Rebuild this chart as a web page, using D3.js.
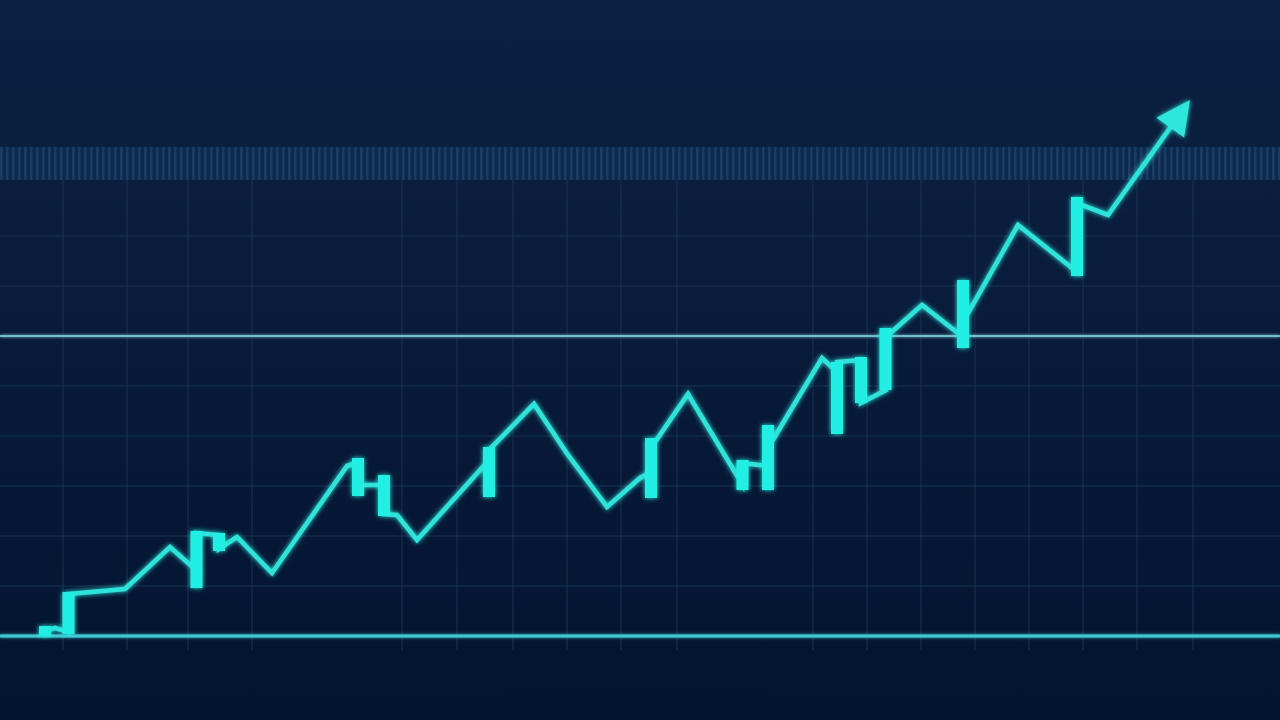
<!DOCTYPE html>
<html><head><meta charset="utf-8">
<script src="https://cdn.jsdelivr.net/npm/d3@7"></script>
<style>html,body{margin:0;padding:0;background:#0a1e3d;overflow:hidden}svg{display:block}</style>
</head><body>
<svg id="chart" width="1280" height="720"></svg>
<script>
// ---- data (x in time units, y in price units) ----
const lineX = [4.5,5.5,6.8,6.8,12.5,17.0,19.6,19.6,21.9,21.9,23.7,27.2,34.7,35.8,35.8,38.4,38.4,39.7,41.7,48.9,48.9,53.4,56.8,60.7,64.0,65.1,65.1,68.8,74.2,74.2,76.8,76.8,82.2,83.7,83.7,86.1,86.1,88.6,88.6,92.2,96.3,96.3,101.8,107.7,107.7,110.8,119.0];
const lineY = [0.10,0.16,0.08,0.84,0.94,1.78,1.32,2.06,2.02,1.74,1.98,1.26,3.40,3.48,3.02,3.02,2.44,2.42,1.92,3.52,3.72,4.64,3.62,2.58,3.16,3.28,3.76,4.84,3.04,3.46,3.40,3.76,5.56,5.28,5.48,5.52,4.66,4.92,5.98,6.62,5.98,6.28,8.22,7.28,8.66,8.42,10.72];
const candleX    = [4.5,6.85,19.65,21.9,35.8,38.4,48.9,65.1,74.25,76.8,83.7,86.1,88.55,96.3,107.7];
const candleHigh = [0.20,0.88,2.10,2.06,3.56,3.22,3.78,3.96,3.52,4.22,5.48,5.58,6.16,7.12,8.78];
const candleLow  = [0.00,0.04,0.96,1.70,2.80,2.40,2.78,2.76,2.92,2.92,4.04,4.66,4.92,5.76,7.20];
const gridX = [6.3,12.7,18.8,25.2,40.2,45.7,51.3,56.7,62.1,67.7,81.3,86.7,92.1,97.5,102.9,108.3,113.7,119.3];
const gridY = [1,2,3,4,5,7,8];
const levelY = [0,6];

// ---- layout ----
const W = 1280, H = 720;
const x = d3.scaleLinear().domain([0,128]).range([0,W]);
const y = d3.scaleLinear().domain([0,9]).range([636,186]);
const svg = d3.select('#chart');
const defs = svg.append('defs');

const bg = defs.append('linearGradient').attr('id','bg').attr('x1',0).attr('y1',0).attr('x2',0).attr('y2',1);
bg.append('stop').attr('offset','0%').attr('stop-color','#0c2142');
bg.append('stop').attr('offset','40%').attr('stop-color','#091c3b');
bg.append('stop').attr('offset','100%').attr('stop-color','#031430');

const pat = defs.append('pattern').attr('id','stripes').attr('patternUnits','userSpaceOnUse').attr('width',6).attr('height',40);
pat.append('rect').attr('width',6).attr('height',40).attr('fill','#102b50');
pat.append('rect').attr('width',2.5).attr('height',40).attr('fill','#1c426c');

function makeGlow(id, sd){
  const f = defs.append('filter').attr('id',id).attr('filterUnits','userSpaceOnUse')
    .attr('x',-50).attr('y',-50).attr('width',W+100).attr('height',H+100);
  f.append('feGaussianBlur').attr('stdDeviation',sd).attr('result','b');
  const m = f.append('feMerge'); m.append('feMergeNode').attr('in','b'); m.append('feMergeNode').attr('in','SourceGraphic');
}
makeGlow('glow',2.5);
makeGlow('glowS',1.5);

svg.append('rect').attr('width',W).attr('height',H).attr('fill','url(#bg)');
// striped band above the grid
svg.append('rect').attr('x',0).attr('y',147).attr('width',W).attr('height',y(9)-6-147).attr('fill','url(#stripes)').attr('opacity',0.85);

// grid
const g = svg.append('g');
g.selectAll('line.gx').data(gridX).join('line').attr('class','gx')
  .attr('x1',d=>x(d)).attr('x2',d=>x(d)).attr('y1',y(9)-6).attr('y2',y(0)+14)
  .attr('stroke','#1b3659').attr('stroke-width',1.5).attr('opacity',0.6);
g.selectAll('line.gy').data(gridY).join('line').attr('class','gy')
  .attr('x1',0).attr('x2',W).attr('y1',d=>y(d)).attr('y2',d=>y(d))
  .attr('stroke','#1b3659').attr('stroke-width',1.5).attr('opacity',0.6);
g.selectAll('line.lv').data(levelY).join('line').attr('class','lv')
  .attr('x1',0).attr('x2',W).attr('y1',d=>y(d)).attr('y2',d=>y(d))
  .attr('stroke',(d,i)=>i===0?'#3fc8d2':'#72bccb').attr('stroke-width',(d,i)=>i===0?3:2)
  .attr('filter','url(#glowS)');

// price line
const pts = lineX.map((v,i)=>[x(v), y(lineY[i])]);
const tip = pts[pts.length-1], prev = pts[pts.length-2];
const dx = tip[0]-prev[0], dy = tip[1]-prev[1], len = Math.hypot(dx,dy);
const ux = dx/len, uy = dy/len, headLen = 34, headW = 17;
const base = [tip[0]-ux*headLen, tip[1]-uy*headLen];
const linePts = pts.slice(0,-1).concat([[tip[0]-ux*(headLen-4), tip[1]-uy*(headLen-4)]]);

const plot = svg.append('g').attr('filter','url(#glow)');
plot.append('path').datum(linePts)
  .attr('d', d3.line())
  .attr('fill','none').attr('stroke','#2fe3da').attr('stroke-width',4.6)
  .attr('stroke-linejoin','miter').attr('stroke-miterlimit',6);

// candles
const cw = 12;
plot.selectAll('rect.c').data(candleX).join('rect').attr('class','c')
  .attr('x',d=>x(d)-cw/2).attr('width',cw)
  .attr('y',(d,i)=>y(candleHigh[i])).attr('height',(d,i)=>y(candleLow[i])-y(candleHigh[i]))
  .attr('fill','#22efe4');

// arrow head
plot.append('path')
  .attr('d', d3.line()([tip, [base[0]-uy*headW, base[1]+ux*headW], [base[0]+uy*headW, base[1]-ux*headW]]) + 'Z')
  .attr('fill','#2fe6dc');
</script>
</body></html>
